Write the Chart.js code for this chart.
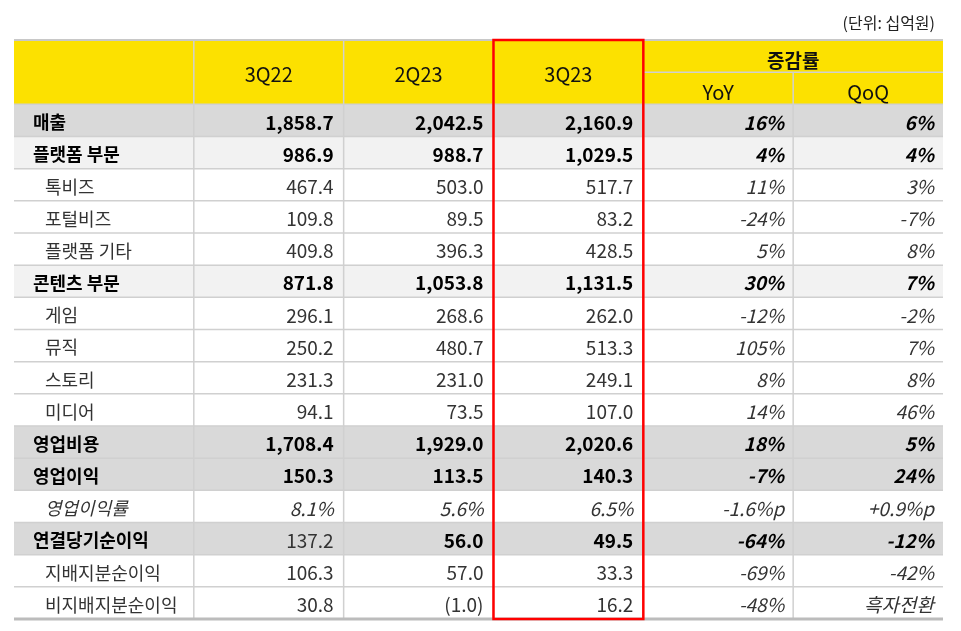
<!DOCTYPE html>
<html><head><meta charset="utf-8">
<script src="https://cdn.jsdelivr.net/npm/chart.js@4.4.0/dist/chart.umd.min.js"></script>
<style>html,body{margin:0;padding:0;background:#fff;}#wrap{width:961px;height:631px;position:relative}</style>
</head><body><div id="wrap"><canvas id="c" width="961" height="631"></canvas></div>
<script>
const rowLabels = ['매출','플랫폼 부문','톡비즈','포털비즈','플랫폼 기타','콘텐츠 부문','게임','뮤직','스토리','미디어','영업비용','영업이익','영업이익률','연결당기순이익','지배지분순이익','비지배지분순이익'];
const periods = ['3Q22','2Q23','3Q23'];
const changeHeader = '증감률';
const changeCols = ['YoY','QoQ'];
const unitNote = '(단위: 십억원)';
const v3Q22 = [1858.7, 986.9, 467.4, 109.8, 409.8, 871.8, 296.1, 250.2, 231.3, 94.1, 1708.4, 150.3, 8.1, 137.2, 106.3, 30.8];
const v2Q23 = [2042.5, 988.7, 503.0, 89.5, 396.3, 1053.8, 268.6, 480.7, 231.0, 73.5, 1929.0, 113.5, 5.6, 56.0, 57.0, -1.0];
const v3Q23 = [2160.9, 1029.5, 517.7, 83.2, 428.5, 1131.5, 262.0, 513.3, 249.1, 107.0, 2020.6, 140.3, 6.5, 49.5, 33.3, 16.2];
const yoy = [16, 4, 11, -24, 5, 30, -12, 105, 8, 14, 18, -7, -1.6, -64, -69, -48];
const qoq = [6, 4, 3, -7, 8, 7, -2, 7, 8, 46, 5, 24, 0.9, -12, -42, null];
const turnText = '흑자전환';
const rowStyle = ['total','segment','item','item','item','segment','item','item','item','item','total','total','ratio','total','item','item'];
const regularCells = [[13,0]];

const FONT = '"Noto Sans CJK KR","Noto Sans",sans-serif';
const styleBg = {total:'#d9d9d9', segment:'#f2f2f2', item:'#ffffff', ratio:'#ffffff'};
const HEADER_BG = '#fce100';
const colEdges = [0,1.2,2.2,3.2,4.2,5.2,6.2];

const yLabels = ['h1','h2'].concat(rowLabels);
const bgColors = [HEADER_BG, HEADER_BG].concat(rowStyle.map(s => styleBg[s]));

function fmtNum(v){ return Math.abs(v).toLocaleString('en-US',{minimumFractionDigits:1,maximumFractionDigits:1}); }
function fmtVal(v,r){
  if (rowStyle[r]==='ratio') return v.toFixed(1)+'%';
  return v<0 ? '('+fmtNum(v)+')' : fmtNum(v);
}
function fmtChg(v,r){
  if (v===null) return turnText;
  if (rowStyle[r]==='ratio') return (v>0?'+':'')+v.toFixed(1)+'%p';
  return v+'%';
}

const tablePlugin = {
  id:'table',
  afterDatasetsDraw(chart){
    const ctx = chart.ctx, x = chart.scales.x, y = chart.scales.y;
    const band = y.getPixelForValue(1) - y.getPixelForValue(0);
    const top = i => y.getPixelForValue(i) - band/2;
    const mid = i => y.getPixelForValue(i);
    const X = v => x.getPixelForValue(v);
    const L = X(colEdges[0]), R = X(colEdges[6]);
    const T = top(0), B = top(yLabels.length);
    ctx.save();
    ctx.strokeStyle = '#d0d0d0'; ctx.lineWidth = 1.5;
    for (let i=2;i<yLabels.length;i++){
      ctx.beginPath(); ctx.moveTo(L, top(i)); ctx.lineTo(R, top(i)); ctx.stroke();
    }
    ctx.beginPath(); ctx.moveTo(X(colEdges[4]), top(1)); ctx.lineTo(R, top(1)); ctx.stroke();
    for (let c=1;c<6;c++){
      const yStart = c===5 ? top(1) : T;
      ctx.beginPath(); ctx.moveTo(X(colEdges[c]), yStart); ctx.lineTo(X(colEdges[c]), B); ctx.stroke();
    }
    ctx.strokeStyle = '#c8c8c8'; ctx.lineWidth = 2;
    ctx.beginPath(); ctx.moveTo(L, T); ctx.lineTo(R, T); ctx.stroke();
    ctx.strokeStyle = '#bcbcbc'; ctx.lineWidth = 3;
    ctx.beginPath(); ctx.moveTo(L, B); ctx.lineTo(R, B); ctx.stroke();

    const dy = 2;
    ctx.fillStyle = '#111'; ctx.textBaseline = 'middle'; ctx.textAlign = 'center';
    ctx.font = '400 20px '+FONT;
    const hMid = (T + top(2))/2 + dy;
    periods.forEach((p,k)=>{ ctx.fillText(p, (X(colEdges[k+1])+X(colEdges[k+2]))/2, hMid); });
    ctx.font = '700 19px '+FONT;
    ctx.fillText(changeHeader, (X(colEdges[4])+X(colEdges[6]))/2, mid(0)+dy+3);
    ctx.font = '400 20px '+FONT;
    changeCols.forEach((p,k)=>{ ctx.fillText(p, (X(colEdges[4+k])+X(colEdges[5+k]))/2, mid(1)+dy+2); });

    const cols = [v3Q22, v2Q23, v3Q23];
    rowLabels.forEach((lab, r)=>{
      const st = rowStyle[r];
      const yy = mid(r+2) + dy;
      const bold = (st==='total'||st==='segment');
      const italic = st==='ratio';
      const color = bold ? '#000' : '#333';
      ctx.fillStyle = color;
      ctx.textAlign = 'left';
      ctx.font = (italic?'italic ':'')+(bold?'700 ':'400 ')+'18px '+FONT;
      ctx.fillText(lab, L + (bold?19:31), yy);
      ctx.textAlign = 'right';
      cols.forEach((arr,k)=>{
        const reg = regularCells.some(c=>c[0]===r && c[1]===k);
        const b = bold && !reg;
        ctx.fillStyle = b ? '#000' : '#333';
        ctx.font = (italic?'italic ':'')+(b?'700 ':'400 ')+'19px '+FONT;
        ctx.fillText(fmtVal(arr[r],r), X(colEdges[k+2]) - 10, yy);
      });
      [yoy, qoq].forEach((arr,k)=>{
        ctx.fillStyle = color;
        ctx.font = 'italic '+(bold?'700 ':'400 ')+'19px '+FONT;
        ctx.fillText(fmtChg(arr[r],r), X(colEdges[k+5]) - 9, yy);
      });
    });

    ctx.strokeStyle = '#ff0000'; ctx.lineWidth = 2.5;
    ctx.strokeRect(X(colEdges[3]), T, X(colEdges[4]) - X(colEdges[3]), B - T);

    ctx.fillStyle = '#222'; ctx.textAlign = 'right'; ctx.font = '400 16px '+FONT;
    ctx.fillText(unitNote, R - 8, 23);
    ctx.restore();
  }
};

new Chart(document.getElementById('c'), {
  type:'bar',
  data:{ labels: yLabels, datasets:[{ data: yLabels.map(()=>[colEdges[0], colEdges[6]]), backgroundColor: bgColors, borderWidth:0, barPercentage:1, categoryPercentage:1 }]},
  options:{
    indexAxis:'y', responsive:false, animation:false, devicePixelRatio:1,
    layout:{ padding:{ left:14, right:18, top:40, bottom:12 } },
    scales:{ x:{ type:'linear', min:colEdges[0], max:colEdges[6], display:false }, y:{ display:false } },
    plugins:{ legend:{display:false}, tooltip:{enabled:false} }
  },
  plugins:[tablePlugin]
});
</script></body></html>
